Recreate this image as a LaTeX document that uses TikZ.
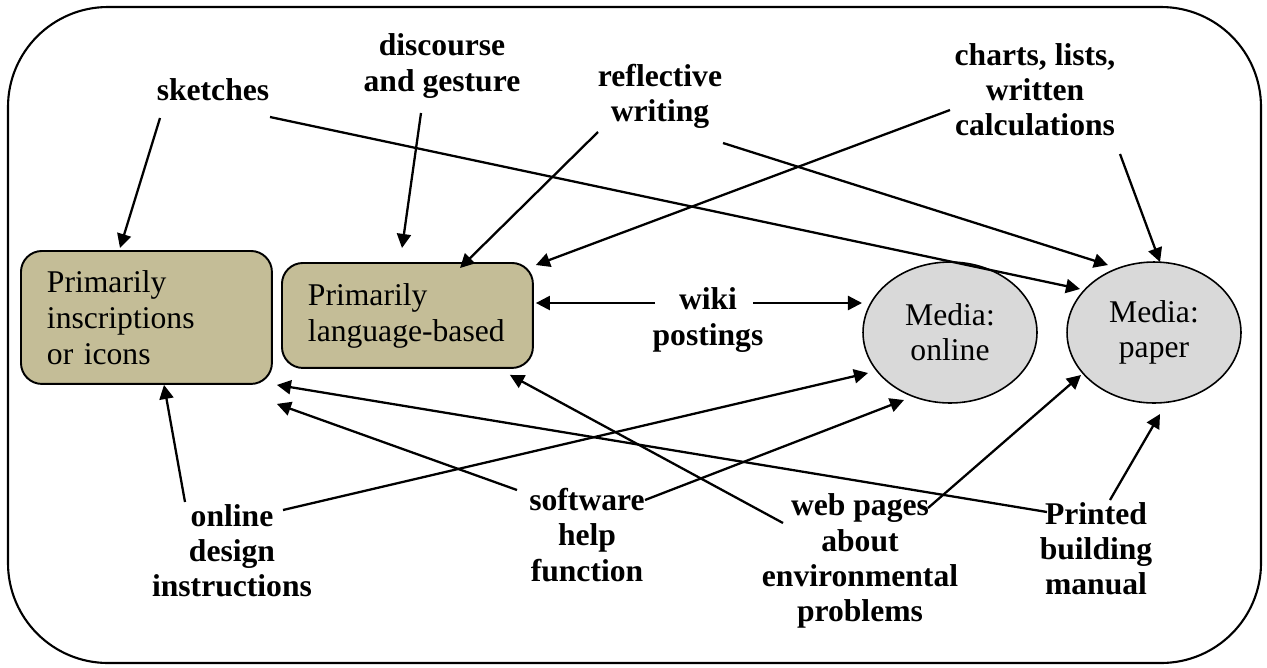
\documentclass[tikz,border=0pt]{standalone}
\usepackage{fontspec}
\setmainfont{Liberation Serif}
\usetikzlibrary{arrows.meta,calc,shapes.geometric}
\definecolor{boxtan}{RGB}{196,189,151}
\definecolor{mediagray}{RGB}{217,217,217}
\begin{document}
\begin{tikzpicture}[x=0.02cm, y=-0.02cm,
  lbl/.style={font=\bfseries\fontsize{18}{20}\selectfont, align=center, inner sep=0pt},
  kindbox/.style={draw, line width=1.1pt, rounded corners=0.42cm, fill=boxtan,
    font=\fontsize{18}{20.5}\selectfont, align=left, inner xsep=0.52cm, inner ysep=0pt,
    text width=3.98cm, anchor=north west},
  medium/.style={draw, ellipse, line width=0.9pt, fill=mediagray,
    font=\fontsize{18}{20}\selectfont, align=center, inner sep=0pt,
    minimum width=3.48cm, minimum height=2.82cm},
  link/.style={line width=1.3pt, -{Triangle[length=8pt,width=8pt]}}
]
\useasboundingbox (0,0) rectangle (1267,667);
% outer frame
\draw[line width=1.2pt, rounded corners=2cm] (8,7) rectangle (1261,663);

% kinds of representation
\node[kindbox, minimum height=2.66cm] (box1) at (20,250) {Primarily\\inscriptions\\or icons};
\node[kindbox, minimum height=2.1cm] (box2) at (281,262) {Primarily\\language-based};
% media
\node[medium] (online) at (950,332.5) {Media:\\online};
\node[medium] (paper) at (1154,332.5) {Media:\\paper};

% examples
\node[lbl] (sk) at (213,90) {sketches};
\node[lbl] (dg) at (442,66) {discourse\\and gesture};
\node[lbl] (rw) at (660,96) {reflective\\writing};
\node[lbl] (cl) at (1035,90) {charts, lists,\\written\\calculations};
\node[lbl] (wk) at (708,320) {wiki\\postings};
\node[lbl] (od) at (232,551) {online\\design\\instructions};
\node[lbl] (sh) at (587,535) {software\\help\\function};
\node[lbl] (wp) at (860,561) {web pages\\about\\environmental\\problems};
\node[lbl] (pb) at (1096,549) {Printed\\building\\manual};

% connector tails next to the examples
\coordinate (skA) at (160,118);
\coordinate (skB) at (270,117);
\coordinate (dgA) at (421,113);
\coordinate (rwA) at (598,132);
\coordinate (rwB) at (723,143);
\coordinate (clA) at (950,110);
\coordinate (clB) at (1120,154);
\coordinate (wkA) at (655,303);
\coordinate (wkB) at (753,303);
\coordinate (odA) at (185,502);
\coordinate (odB) at (283,510);
\coordinate (shA) at (517,490);
\coordinate (shB) at (645,500);
\coordinate (wpA) at (783,523);
\coordinate (wpB) at (928,508);
\coordinate (pbA) at (1047,512);
\coordinate (pbB) at (1110,500);

% connectors
\draw[link] (skA) -- ($(box1.north west)+(100,-2)$);
\draw[link] (skB) -- ($(paper.center)+(-74,-43.5)$);
\draw[link] (dgA) -- ($(box2.north west)+(121,-14)$);
\draw[link] (rwA) -- ($(box2.north west)+(179,6)$);
\draw[link] (rwB) -- ($(paper.center)+(-46,-67.5)$);
\draw[link] (clA) -- ($(box2.north east)+(2,3)$);
\draw[link] (clB) -- ($(paper.center)+(6,-70.5)$);
\draw[link] (wkA) -- ($(box2.north east)+(2,41)$);
\draw[link] (wkB) -- ($(online.center)+(-88,-29.5)$);
\draw[link] (odA) -- ($(box1.south west)+(144,0)$);
\draw[link] (odB) -- ($(online.center)+(-82,40.5)$);
\draw[link] (shA) -- ($(box1.south east)+(4,19)$);
\draw[link] (shB) -- ($(online.center)+(-46,67.5)$);
\draw[link] (wpA) -- ($(box2.south east)+(-24,6)$);
\draw[link] (wpB) -- ($(paper.center)+(-73,42.5)$);
\draw[link] (pbA) -- ($(box1.south east)+(4,0)$);
\draw[link] (pbB) -- ($(paper.center)+(6,81.5)$);
\end{tikzpicture}
\end{document}
